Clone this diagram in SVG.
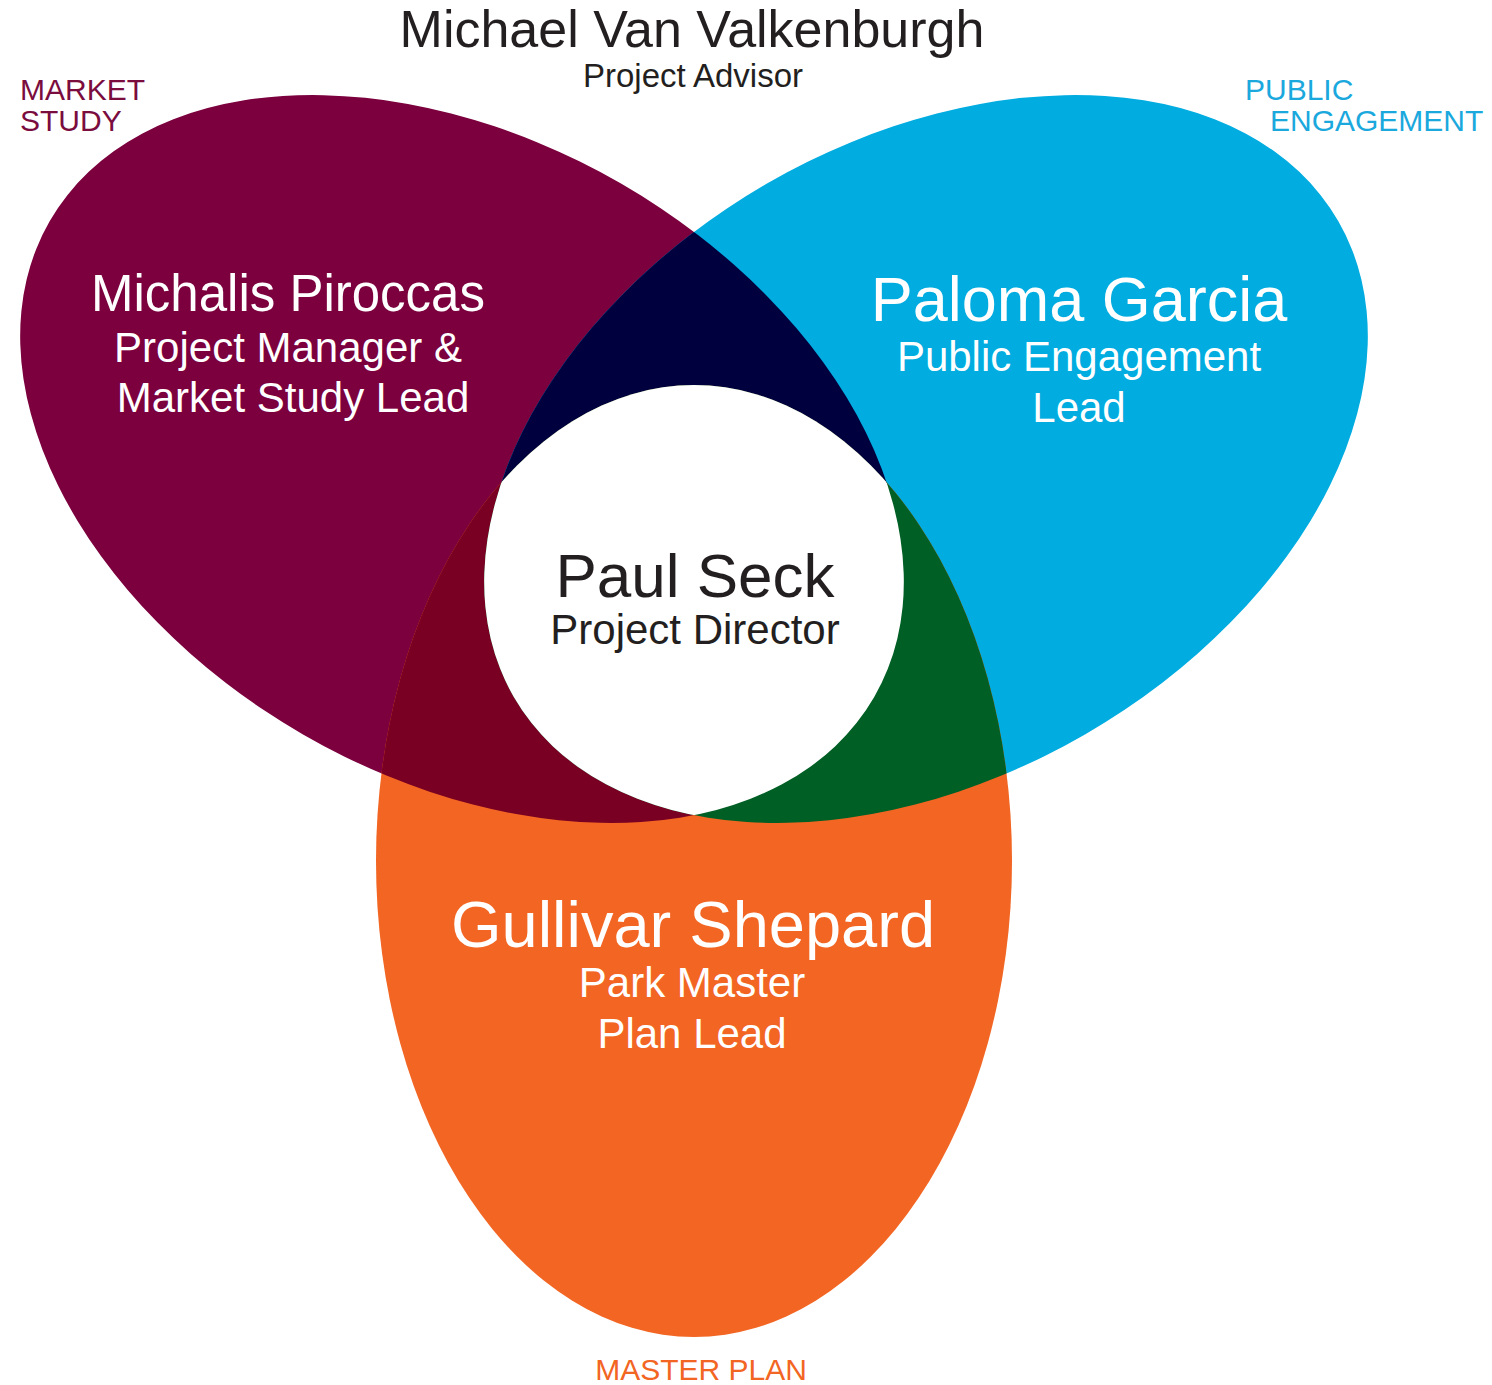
<svg xmlns="http://www.w3.org/2000/svg" width="1492" height="1385" viewBox="0 0 1492 1385">
  <style>
    text { font-family: "Liberation Sans", Arial, sans-serif; }
    .dark { fill: #231F20; }
    .white { fill: #FFFFFF; }
    .mid { text-anchor: middle; }
    .tag { font-size: 30px; }
  </style>
  <defs>
    <clipPath id="clipM">
      <ellipse cx="462" cy="459" rx="476" ry="318" transform="rotate(30 462 459)"/>
    </clipPath>
    <clipPath id="clipB">
      <ellipse cx="926" cy="459" rx="476" ry="318" transform="rotate(-30 926 459)"/>
    </clipPath>
  </defs>
  <rect width="1492" height="1385" fill="#FFFFFF"/>

  <g id="market-study">
    <ellipse cx="462" cy="459" rx="476" ry="318" transform="rotate(30 462 459)" fill="#7B003D"/>
  </g>
  <g id="public-engagement">
    <ellipse cx="926" cy="459" rx="476" ry="318" transform="rotate(-30 926 459)" fill="#00ACE0"/>
  </g>
  <g id="master-plan">
    <ellipse cx="694" cy="861" rx="318" ry="476" fill="#F26522"/>
  </g>

  <g id="overlaps">
    <g clip-path="url(#clipM)">
      <ellipse cx="926" cy="459" rx="476" ry="318" transform="rotate(-30 926 459)" fill="#00003F"/>
    </g>
    <g clip-path="url(#clipM)">
      <ellipse cx="694" cy="861" rx="318" ry="476" fill="#790022"/>
    </g>
    <g clip-path="url(#clipB)">
      <ellipse cx="694" cy="861" rx="318" ry="476" fill="#005F24"/>
    </g>
    <g clip-path="url(#clipB)">
      <g clip-path="url(#clipM)">
        <ellipse cx="694" cy="861" rx="318" ry="476" fill="#FFFFFF"/>
      </g>
    </g>
  </g>

  <g id="advisor">
    <text class="dark mid" x="692" y="47" font-size="52">Michael Van Valkenburgh</text>
    <text class="dark mid" x="693" y="87" font-size="33">Project Advisor</text>
  </g>

  <g id="market-study-labels">
    <text class="tag" x="20" y="100" fill="#7A0C3E">MARKET</text>
    <text class="tag" x="20" y="131" fill="#7A0C3E">STUDY</text>
    <text class="white mid" x="288" y="311" font-size="51">Michalis Piroccas</text>
    <text class="white mid" x="288" y="362" font-size="42">Project Manager &amp;</text>
    <text class="white mid" x="293" y="412" font-size="42">Market Study Lead</text>
  </g>

  <g id="public-engagement-labels">
    <text class="tag" x="1245" y="100" fill="#1AA8DD">PUBLIC</text>
    <text class="tag" x="1270" y="131" fill="#1AA8DD">ENGAGEMENT</text>
    <text class="white mid" x="1079" y="321" font-size="63">Paloma Garcia</text>
    <text class="white mid" x="1079" y="371" font-size="42">Public Engagement</text>
    <text class="white mid" x="1079" y="422" font-size="42">Lead</text>
  </g>

  <g id="director">
    <text class="dark mid" x="695" y="597" font-size="62">Paul Seck</text>
    <text class="dark mid" x="695" y="644" font-size="42">Project Director</text>
  </g>

  <g id="master-plan-labels">
    <text class="white mid" x="693" y="947" font-size="65">Gullivar Shepard</text>
    <text class="white mid" x="692" y="997" font-size="42">Park Master</text>
    <text class="white mid" x="692" y="1048" font-size="42">Plan Lead</text>
    <text class="tag mid" x="701" y="1380" fill="#F26522">MASTER PLAN</text>
  </g>

  <g id="connectors"></g>
</svg>
